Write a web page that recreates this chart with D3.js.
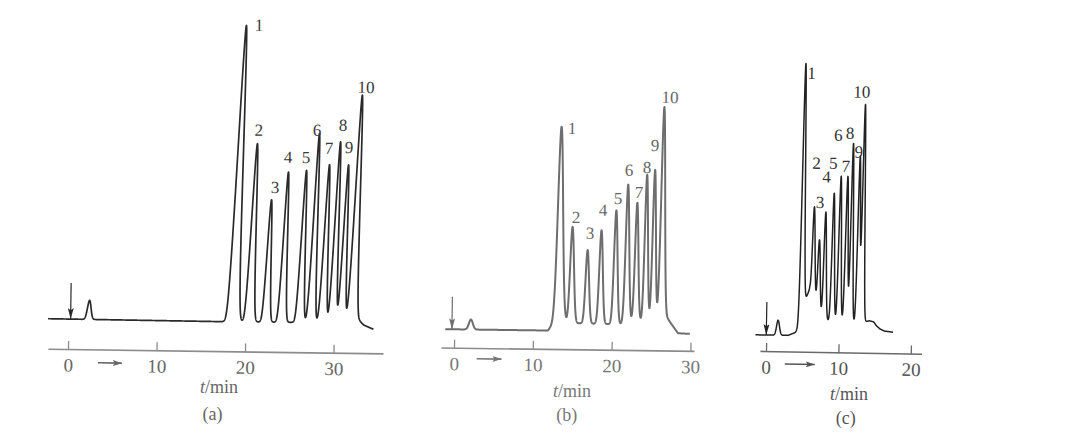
<!DOCTYPE html>
<html>
<head>
<meta charset="utf-8">
<script src="https://cdn.jsdelivr.net/npm/d3@7"></script>
<style>
  body { margin: 0; background: #fff; }
  svg { display: block; font-family: "Liberation Serif", "Times New Roman", serif; }
</style>
</head>
<body>
<svg id="chart" width="1080" height="437"></svg>
<script>
// peak names, shared by the three chromatograms
const peakNames = ["1", "2", "3", "4", "5", "6", "7", "8", "9", "10"];
const ticksAB = [0, 10, 20, 30];
const ticksC = [0, 10, 20];

// (a) retention time (min), peak height (response), peak width sigma (min)
const timesA = [18.6, 20.45, 22.33, 24.10, 26.13, 27.41, 28.70, 29.83, 30.85, 32.05];
const heightsA = [296, 178, 122, 150, 152, 189, 158, 181, 158, 228];
const sigmaA = [0.30, 0.25, 0.22, 0.22, 0.22, 0.22, 0.22, 0.21, 0.21, 0.26];
const earlyA = [2.3, 19, 0.2];
const driftTA = [-2.3, 17, 31.5, 32.9, 33.4, 34.5];
const driftVA = [0, -0.5, 0, 2, -2, -6];
const labelTA = [21.07, 21.23, 23.13, 24.55, 26.59, 27.79, 29.17, 30.72, 31.43, 33.26];
const labelHA = [296.7, 191.7, 134.9, 165.1, 165.3, 192.5, 174.7, 197.9, 175.9, 236.2];

// (b)
const timesB = [13.29, 14.85, 16.80, 18.53, 20.38, 21.84, 23.03, 24.23, 25.23, 26.30];
const heightsB = [204, 104, 81, 101, 121, 147, 129, 157, 162, 225];
const sigmaB = [0.32, 0.24, 0.22, 0.22, 0.22, 0.22, 0.21, 0.2, 0.2, 0.24];
const earlyB = [2.1, 10, 0.25];
const driftTB = [-1.5, 11.9, 12.6, 21, 22, 26.3, 27.1, 28.4, 29.9];
const driftVB = [0, 0, 8, 7, 10, 11, 13, -1, -1.5];
const labelTB = [14.61, 15.27, 17.07, 18.68, 20.56, 21.92, 23.22, 24.19, 25.17, 26.99];
const labelHB = [202.8, 113.9, 98.1, 121.3, 133.4, 161.6, 139.7, 164.8, 186.9, 235.1];

// (c)
const timesC = [4.82, 6.35, 7.13, 7.94, 9.05, 9.97, 10.90, 11.59, 12.56, 13.15];
const heightsC = [272, 129, 96, 124, 143, 160, 160, 193, 180, 232];
const sigmaC = [0.19, 0.17, 0.17, 0.17, 0.17, 0.17, 0.17, 0.16, 0.16, 0.17];
const earlyC = [1.6, 15, 0.2];
const driftTC = [-1.5, 3.0, 4.0, 4.5, 4.9, 5.9, 6.6, 7.3, 7.8, 9, 12, 13.6, 14.2, 14.8, 15.2, 15.7, 16.3, 17.5];
const driftVC = [0, 0, 3, 9, 28, 47, 38, 22, 16, 15, 14, 15, 16, 15, 11, 8, 6, 5];
const labelTC = [5.64, 6.55, 7.10, 7.96, 8.84, 9.46, 10.60, 11.08, 12.36, 12.60];
const labelHC = [262.8, 172.9, 133.9, 159.4, 173.2, 201.3, 170.4, 203.5, 184.9, 245];

// injection marker (time, top) and the flow arrow under the axis (from, to)
const injectA = [0.25, 36], injectB = [-0.29, 32.6], injectC = [0, 33];
const flowA = [3.4, 6.1], flowB = [2.9, 6.05], flowC = [2.62, 6.77];

const panels = [
  {name: "(a)", times: timesA, heights: heightsA, sigma: sigmaA, early: earlyA,
   driftT: driftTA, driftV: driftVA, labelT: labelTA, labelH: labelHA,
   inject: injectA, flow: flowA, ticks: ticksAB,
   x0: 68, axisY: 349, k: 8.85, base: 30, rot: 0.8, skew: 1.8,
   axis: [-2.26, 35.6], trace: [-2.3, 34.5], flowY: 13.4,
   line: "#2a2a2a", lw: 1.7, axisColor: "#8c8c8c", text: "#3a3a3a", tickText: "#666",
   unitX: 219, unitY: 393, nameX: 212.5, nameY: 420},
  {name: "(b)", times: timesB, heights: heightsB, sigma: sigmaB, early: earlyB,
   driftT: driftTB, driftV: driftVB, labelT: labelTB, labelH: labelHB,
   inject: injectB, flow: flowB, ticks: ticksAB,
   x0: 454, axisY: 347.7, k: 7.88, base: 18.4, rot: 0.75, skew: 0,
   axis: [-1.65, 30.46], trace: [-1.14, 29.9], flowY: 10.8,
   line: "#6e6e6e", lw: 2, axisColor: "#8c8c8c", text: "#666", tickText: "#777",
   unitX: 572, unitY: 397, nameX: 566.7, nameY: 421},
  {name: "(c)", times: timesC, heights: heightsC, sigma: sigmaC, early: earlyC,
   driftT: driftTC, driftV: driftVC, labelT: labelTC, labelH: labelHC,
   inject: injectC, flow: flowC, ticks: ticksC,
   x0: 766, axisY: 351, k: 7.24, base: 16, rot: 1.0, skew: 0,
   axis: [-0.83, 21.5], trace: [-1.5, 17.5], flowY: 12.7,
   line: "#222", lw: 1.5, axisColor: "#6a6a6a", text: "#333", tickText: "#555",
   unitX: 849, unitY: 400, nameX: 845.8, nameY: 424}
];

const svg = d3.select("#chart");
const defs = svg.append("defs");

function marker(id, color, len, wid) {
  defs.append("marker")
    .attr("id", id)
    .attr("viewBox", "0 0 10 10")
    .attr("refX", 10).attr("refY", 5)
    .attr("markerUnits", "userSpaceOnUse")
    .attr("markerWidth", len).attr("markerHeight", wid)
    .attr("orient", "auto")
    .attr("preserveAspectRatio", "none")
    .append("path")
    .attr("d", "M0,0 L10,5 L0,10 L2,5 z")
    .attr("fill", color);
}

function gauss(t, c, h, s) {
  return h * Math.exp(-0.5 * ((t - c) / s) * ((t - c) / s));
}

function drawPanel(p, i) {
  const g = svg.append("g")
    .attr("transform", "translate(" + p.x0 + "," + p.axisY + ") rotate(" + p.rot + ")");

  const x = d3.scaleLinear().domain(p.axis).range(p.axis.map(t => t * p.k));
  const y = d3.scaleLinear().domain([0, 300]).range([-p.base, -p.base - 300]);
  const drift = d3.scaleLinear().domain(p.driftT).range(p.driftV).clamp(true);

  // peak heights are read above the drifting baseline
  const amps = p.times.map((t, j) => p.heights[j] - drift(t));
  const samples = d3.range(p.trace[0], p.trace[1] + 1e-9, 0.01).map(t => {
    let v = drift(t) + gauss(t, p.early[0], p.early[1], p.early[2]);
    p.times.forEach((c, j) => { v += gauss(t, c, amps[j], p.sigma[j]); });
    return [t, v];
  });

  const axis = d3.axisBottom(x)
    .tickValues(p.ticks)
    .tickSizeInner(-8)
    .tickSizeOuter(0)
    .tickPadding(9)
    .tickFormat(d3.format("d"));

  const ax = g.append("g").call(axis)
    .attr("font-family", null).attr("font-size", null);
  ax.select(".domain").attr("stroke", p.axisColor).attr("stroke-width", 1.6);
  ax.selectAll(".tick line").attr("stroke", p.axisColor).attr("stroke-width", 1.3).attr("y1", 1);
  ax.selectAll(".tick text")
    .attr("font-size", 19)
    .attr("fill", p.tickText);

  // chromatogram trace
  const baseY = y(0);
  g.append("path")
    .datum(samples)
    .attr("transform", "translate(0," + baseY + ") skewX(" + (-p.skew) + ") translate(0," + (-baseY) + ")")
    .attr("d", d3.line().x(d => x(d[0])).y(d => y(d[1])))
    .attr("fill", "none")
    .attr("stroke", p.line)
    .attr("stroke-width", p.lw)
    .attr("stroke-linejoin", "round");

  // injection arrow
  const mk = "head" + i;
  marker(mk, p.line, 11, 6);
  g.append("line")
    .attr("x1", x(p.inject[0])).attr("x2", x(p.inject[0]))
    .attr("y1", y(p.inject[1])).attr("y2", y(0))
    .attr("stroke", p.line).attr("stroke-width", 1.2)
    .attr("marker-end", "url(#" + mk + ")");

  // flow direction arrow under the axis
  const mf = "flow" + i;
  marker(mf, p.tickText, 9, 6);
  g.append("line")
    .attr("x1", x(p.flow[0])).attr("x2", x(p.flow[1]))
    .attr("y1", p.flowY).attr("y2", p.flowY)
    .attr("stroke", p.tickText).attr("stroke-width", 1.6)
    .attr("marker-end", "url(#" + mf + ")");

  // peak numbers
  g.selectAll("text.peak")
    .data(peakNames)
    .enter().append("text")
    .attr("class", "peak")
    .attr("x", (d, j) => x(p.labelT[j]))
    .attr("y", (d, j) => y(p.labelH[j]))
    .attr("dy", "0.35em")
    .attr("text-anchor", "middle")
    .attr("font-size", 17)
    .attr("fill", p.text)
    .text(d => d);

  // axis title and panel name
  const unit = svg.append("text")
    .attr("x", p.unitX).attr("y", p.unitY)
    .attr("text-anchor", "middle")
    .attr("font-size", 18)
    .attr("fill", p.tickText);
  unit.append("tspan").attr("font-style", "italic").text("t");
  unit.append("tspan").text("/min");

  svg.append("text")
    .attr("x", p.nameX).attr("y", p.nameY)
    .attr("text-anchor", "middle")
    .attr("font-size", 18)
    .attr("fill", p.tickText)
    .text(p.name);
}

panels.forEach(drawPanel);
</script>
</body>
</html>
